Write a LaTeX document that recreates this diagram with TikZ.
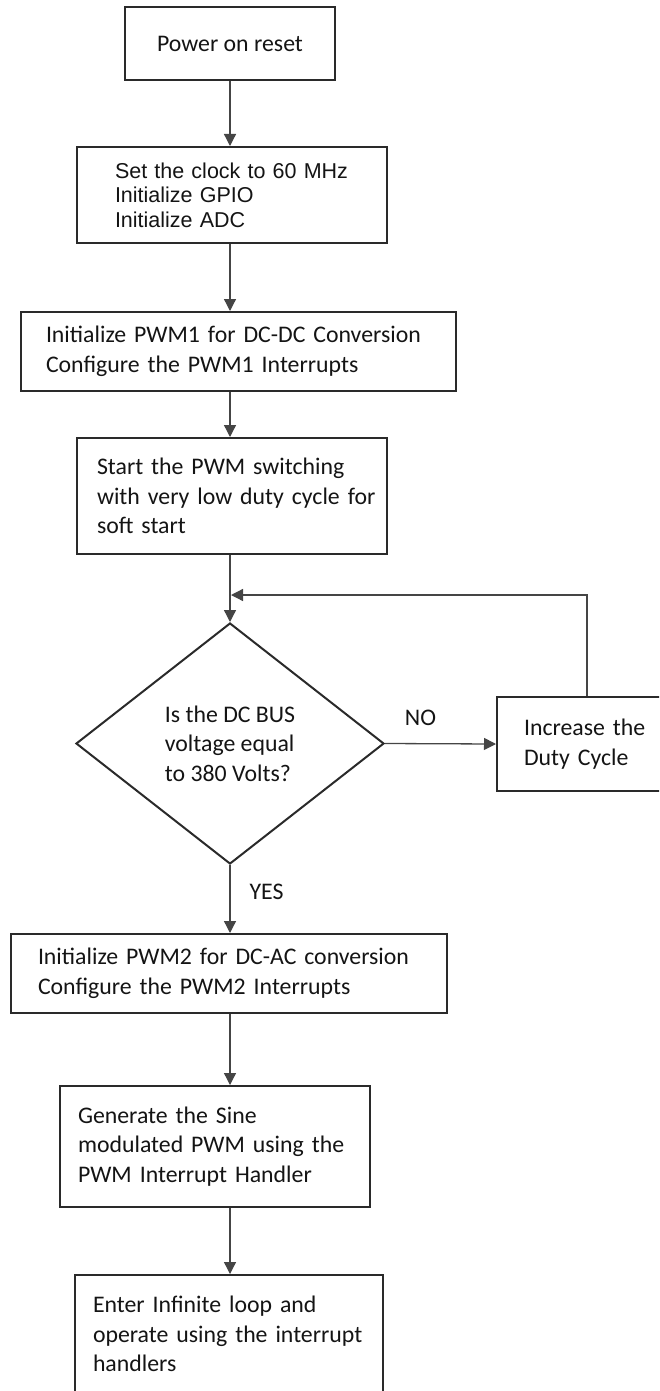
\documentclass[tikz,border=0pt]{standalone}
\usepackage{fontspec}
\usepackage{xcolor}
\setmainfont{Carlito}
\newfontfamily\arialfont{Liberation Sans}
\usetikzlibrary{shapes.geometric,arrows.meta}
\definecolor{boxline}{HTML}{2A2A2A}
\definecolor{flowline}{HTML}{454545}
\definecolor{ink}{HTML}{141414}

\begin{document}
\begin{tikzpicture}[x=1pt,y=-1pt,
    stepbox/.style={draw=boxline,line width=2pt,rectangle,align=left,text=ink,
        font=\fontsize{23.8}{29.5}\selectfont},
    decision/.style={draw=boxline,line width=2pt,diamond,align=left,text=ink,
        inner sep=0pt,font=\fontsize{23.8}{29.5}\selectfont},
    flow/.style={draw=flowline,line width=1.3pt,-{Triangle[length=12pt,width=12pt]}},
    tag/.style={text=ink,inner sep=0pt,font=\fontsize{23.8}{29.5}\selectfont}]
            \useasboundingbox (0,0) rectangle (659,1391);
            \clip (0,0) rectangle (659,1391);
            \coordinate (spine) at (230,0);
            \coordinate (turn) at (587,595);
            \node[stepbox,align=center,minimum width=210,minimum height=73] (reset) at (230,43.5) {Power on reset};
            \node[stepbox,minimum height=96,inner xsep=38,text width=234,
                font=\arialfont\fontsize{21.5}{24.5}\selectfont] (clock) at (232,195)
                {Set the clock to 60 MHz\\Initialize GPIO\\Initialize ADC};
            \node[stepbox,minimum height=79,inner xsep=25,text width=385] (pwmone) at (238.5,351.5)
                {Initialize PWM1 for DC-DC Conversion\\Configure the PWM1 Interrupts};
            \node[stepbox,minimum height=116,inner xsep=20,text width=270] (softstart) at (232,496)
                {Start the PWM switching\\\mbox{with very low duty cycle for}\\soft start};
            \node[decision,minimum width=308,minimum height=241] (check) at (230,743.5)
                {Is the DC BUS\\voltage equal\\to 380 Volts?};
            \node[stepbox,minimum height=94,inner xsep=27,text width=139] (incr) at (593.5,744)
                {Increase the\\Duty Cycle};
            \node[stepbox,minimum height=79,inner xsep=27,text width=382] (pwmtwo) at (229,973.5)
                {Initialize PWM2 for DC-AC conversion\\Configure the PWM2 Interrupts};
            \node[stepbox,minimum height=121,inner xsep=18,text width=274] (sine) at (215,1146.5)
                {Generate the Sine\\modulated PWM using the\\PWM Interrupt Handler};
            \node[stepbox,minimum height=118,inner xsep=18,text width=272] (idle) at (229,1334)
                {Enter Infinite loop and\\operate using the interrupt\\handlers};
            \draw[flow] (reset.south) -- (spine |- clock.north);
            \draw[flow] (spine |- clock.south) -- (spine |- pwmone.north);
            \draw[flow] (spine |- pwmone.south) -- (spine |- softstart.north);
            \draw[flow] (spine |- softstart.south) -- (check.north);
            \draw[flow] (check.east) -- node[tag,above=17pt,pos=0.32] {NO} (incr.west);
            \draw[flow] (turn |- incr.north) -- (turn) -- ([xshift=1pt]spine |- turn);
            \draw[flow] (check.south) -- node[tag,right=19pt,pos=0.4] {YES} (spine |- pwmtwo.north);
            \draw[flow] (spine |- pwmtwo.south) -- (spine |- sine.north);
            \draw[flow] (spine |- sine.south) -- (spine |- idle.north);
        \end{tikzpicture}
\end{document}
